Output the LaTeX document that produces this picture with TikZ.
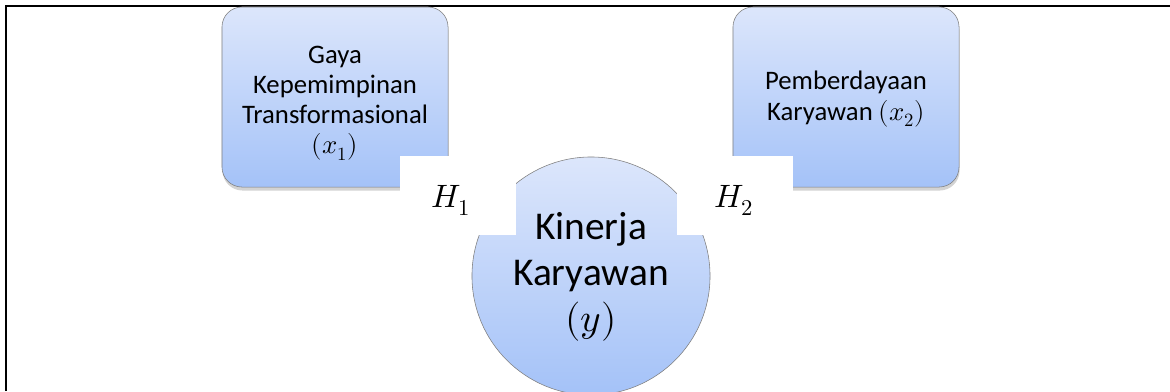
\documentclass[tikz,border=0pt]{standalone}
\usepackage{fontspec}
\usepackage{unicode-math}
\setmainfont{Carlito}
\setmathfont{Latin Modern Math}
\usetikzlibrary{shadows}
\definecolor{boxTop}{HTML}{DCE6FB}
\definecolor{boxBottom}{HTML}{A4C2F8}
\definecolor{boxLine}{HTML}{7F7F7F}
\tikzset{
    varbox/.style={draw=boxLine, top color=boxTop, bottom color=boxBottom},
    xbox/.style={varbox, rounded corners=0.5cm, minimum width=5.65cm, minimum height=4.5cm,
        drop shadow={opacity=0.35, shadow xshift=0.4pt, shadow yshift=-2.5pt}},
    ybox/.style={varbox, circle, minimum size=5.95cm, inner sep=0pt},
    xtext/.style={align=center, font=\fontsize{19}{21.5}\selectfont},
    ytext/.style={align=center, font=\fontsize{28}{32.5}\selectfont},
    hbox/.style={fill=white, minimum width=2.9cm, minimum height=1.975cm, inner sep=0pt},
    htext/.style={font=\fontsize{23}{26}\selectfont}
}
\begin{document}
\begin{tikzpicture}[x=0.025cm, y=-0.025cm]
            \useasboundingbox (0, 0) rectangle (1170, 391);
            \draw[line width=1.2pt] (6, 391) -- (6, 6) -- (1170, 6);
            \node[xbox] (gaya) at (335, 97) {};
            \node[xbox] (pemberdayaan) at (846, 97) {};
            \node[xtext] (gayaText) at (335, 103) {Gaya\\Kepemimpinan\\Transformasional\\$(x_1)$};
            \node[xtext] (pemberdayaanText) at (846, 99) {Pemberdayaan\\Karyawan $(x_2)$};
            \node[ybox] (kinerja) at (591, 276) {};
            \node[hbox] (h1) at (458, 195.5) {};
            \node[hbox] (h2) at (735, 195.5) {};
            \node[htext] (h1Text) at (451, 200) {$H_1$};
            \node[htext] (h2Text) at (734, 200) {$H_2$};
            \node[ytext] (kinerjaText) at (591, 277) {Kinerja\\Karyawan\\$(y)$};
        \end{tikzpicture}
\end{document}
